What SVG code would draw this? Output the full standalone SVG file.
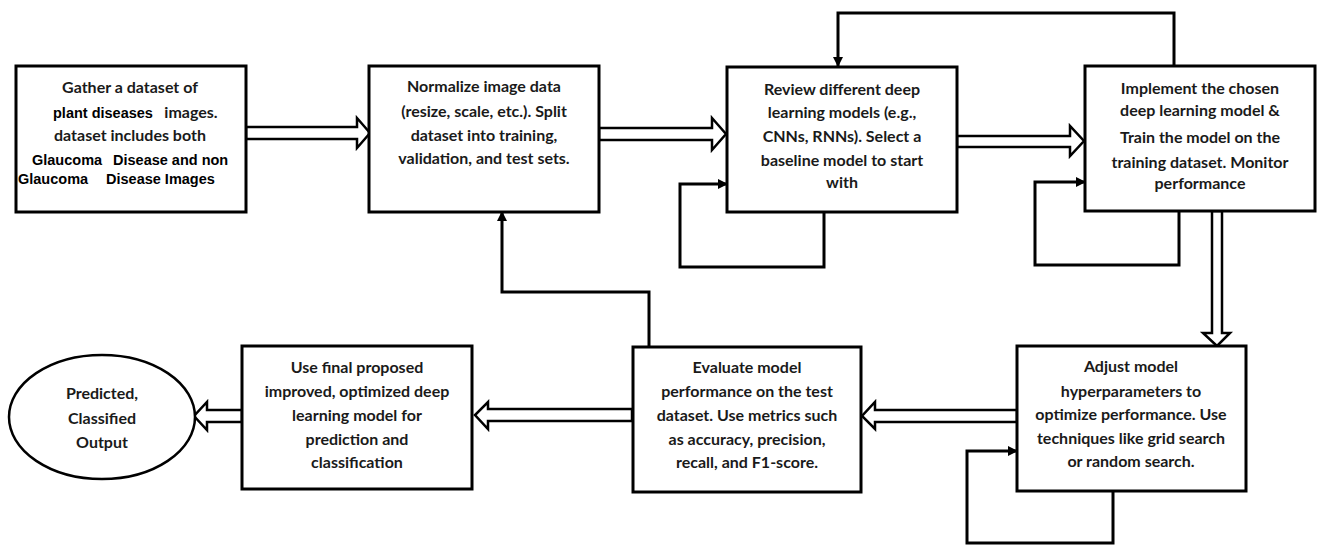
<svg xmlns="http://www.w3.org/2000/svg" width="1321" height="546" viewBox="0 0 1321 546">
<defs>
<marker id="ah" markerWidth="10" markerHeight="10" refX="9" refY="5" orient="auto" markerUnits="userSpaceOnUse"><path d="M0,0 L10,5 L0,10 Z" fill="#000"/></marker>
<style>
.box{fill:#fff;stroke:#000;stroke-width:3}
.t{font-family:Lato,"Open Sans",sans-serif;font-weight:bold;font-size:16px;fill:#1a1a1a;text-anchor:middle}
.a{font-family:"Liberation Sans",Arial,sans-serif;font-weight:bold;font-size:14.5px;fill:#000}
.ln{fill:none;stroke:#000;stroke-width:3}
.ha{fill:#fff;stroke:#000;stroke-width:2.5;stroke-linejoin:miter}
</style>
</defs>
<rect width="1321" height="546" fill="#fff"/>
<g id="connectors">
<polygon class="ha" points="246,127 357,127 357,118 370,133 357,148 357,139 246,139"/>
<polygon class="ha" points="599,128 712,128 712,118 726,134 712,150 712,140 599,140"/>
<polygon class="ha" points="957,136 1070,136 1070,126 1084,141 1070,156 1070,147 957,147"/>
<polygon class="ha" points="1212,211 1212,333 1203,333 1217,346 1230,333 1222,333 1222,211"/>
<polygon class="ha" points="1017,410 875,410 875,402 862,416 875,429 875,422 1017,422"/>
<polygon class="ha" points="632,409 488,409 488,402 475,415 488,429 488,421 632,421"/>
<polygon class="ha" points="242,410 207,410 207,402 194,416 207,430 207,422 242,422"/>
<path class="ln" d="M1174,66 V13 H838 V66" marker-end="url(#ah)"/>
<path class="ln" d="M824,212 V267 H680 V184 H727" marker-end="url(#ah)"/>
<path class="ln" d="M1179,211 V265 H1035 V182 H1085" marker-end="url(#ah)"/>
<path class="ln" d="M1113,491 V543 H967 V451 H1017" marker-end="url(#ah)"/>
<path class="ln" d="M649,347 V292 H502 V212" marker-end="url(#ah)"/>
</g>
<g id="n1">
<rect class="box" x="16" y="66" width="230" height="146"/>
<text class="t" x="130" y="93">Gather a dataset of</text>
<text class="a" x="53" y="118" font-size="15">plant diseases</text>
<text class="t" x="191" y="118">images.</text>
<text class="t" x="130" y="141">dataset includes both</text>
<text class="a" x="32" y="165">Glaucoma</text>
<text class="a" x="113" y="165">Disease and non</text>
<text class="a" x="18" y="184">Glaucoma</text>
<text class="a" x="106" y="184">Disease Images</text>
</g>
<g id="n2">
<rect class="box" x="369" y="66" width="230" height="146"/>
<text class="t" x="484" y="92">Normalize image data</text>
<text class="t" x="484" y="117">(resize, scale, etc.). Split</text>
<text class="t" x="484" y="141">dataset into training,</text>
<text class="t" x="484" y="164">validation, and test sets.</text>
</g>
<g id="n3">
<rect class="box" x="727" y="67" width="230" height="145"/>
<text class="t" x="842" y="95">Review different deep</text>
<text class="t" x="842" y="118">learning models (e.g.,</text>
<text class="t" x="842" y="142">CNNs, RNNs). Select a</text>
<text class="t" x="842" y="166">baseline model to start</text>
<text class="t" x="842" y="188">with</text>
</g>
<g id="n4">
<rect class="box" x="1085" y="66" width="230" height="145"/>
<text class="t" x="1200" y="94">Implement the chosen</text>
<text class="t" x="1200" y="116">deep learning model &amp;</text>
<text class="t" x="1200" y="143">Train the model on the</text>
<text class="t" x="1200" y="168">training dataset. Monitor</text>
<text class="t" x="1200" y="189">performance</text>
</g>
<g id="n5">
<rect class="box" x="1017" y="346" width="229" height="145"/>
<text class="t" x="1131" y="372">Adjust model</text>
<text class="t" x="1131" y="397">hyperparameters to</text>
<text class="t" x="1131" y="420">optimize performance. Use</text>
<text class="t" x="1131" y="444">techniques like grid search</text>
<text class="t" x="1131" y="467">or random search.</text>
</g>
<g id="n6">
<rect class="box" x="633" y="347" width="228" height="145"/>
<text class="t" x="747" y="373">Evaluate model</text>
<text class="t" x="747" y="397">performance on the test</text>
<text class="t" x="747" y="421">dataset. Use metrics such</text>
<text class="t" x="747" y="445">as accuracy, precision,</text>
<text class="t" x="747" y="468">recall, and F1-score.</text>
</g>
<g id="n7">
<rect class="box" x="242" y="346" width="230" height="143"/>
<text class="t" x="357" y="373">Use final proposed</text>
<text class="t" x="357" y="397">improved, optimized deep</text>
<text class="t" x="357" y="421">learning model for</text>
<text class="t" x="357" y="445">prediction and</text>
<text class="t" x="357" y="468">classification</text>
</g>
<g id="n8">
<ellipse cx="102" cy="417" rx="93" ry="62" fill="#fff" stroke="#000" stroke-width="2.5"/>
<text class="t" x="102" y="399">Predicted,</text>
<text class="t" x="102" y="424">Classified</text>
<text class="t" x="102" y="448">Output</text>
</g>
</svg>
